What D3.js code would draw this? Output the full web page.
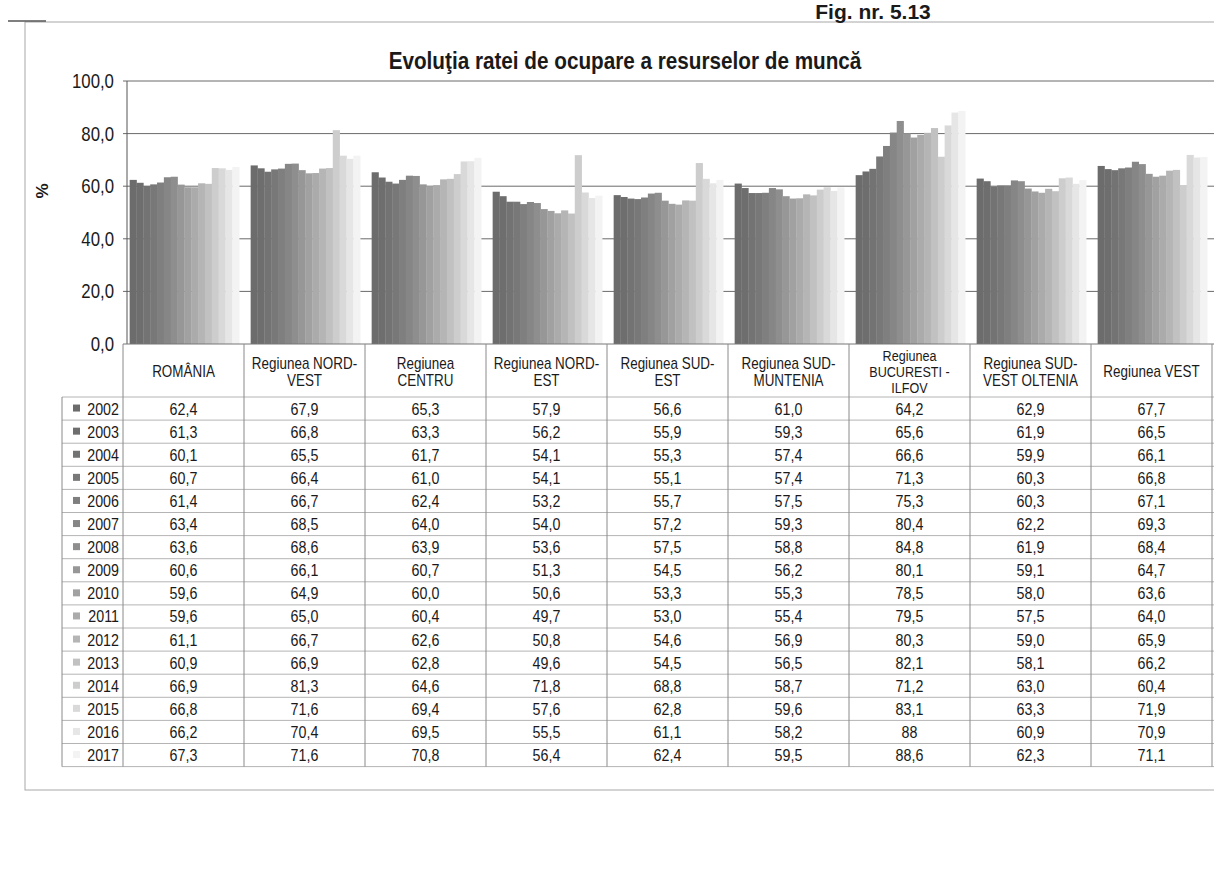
<!DOCTYPE html>
<html>
<head>
<meta charset="utf-8">
<script src="https://cdn.jsdelivr.net/npm/d3@7"></script>
<style>
  html, body { margin: 0; padding: 0; background: #ffffff; }
  svg { display: block; }
  text { font-family: "Liberation Sans Narrow", "Arial Narrow", "Liberation Sans", Arial, sans-serif; fill: #1a1a1a; }
</style>
</head>
<body>
<svg id="chart" width="1214" height="870"></svg>
<script>
// ---------------- DATA ----------------
const figLabel = "Fig. nr. 5.13";
const title = "Evoluţia ratei de ocupare a resurselor de muncă";
const yAxisLabel = "%";
const years = ["2002","2003","2004","2005","2006","2007","2008","2009","2010","2011","2012","2013","2014","2015","2016","2017"];
const regions = ["ROMÂNIA","Regiunea NORD-VEST","Regiunea CENTRU","Regiunea NORD-EST","Regiunea SUD-EST","Regiunea SUD-MUNTENIA","Regiunea BUCURESTI - ILFOV","Regiunea SUD-VEST OLTENIA","Regiunea VEST"];
const regionHeaderLines = [
  ["ROMÂNIA"],
  ["Regiunea NORD-","VEST"],
  ["Regiunea","CENTRU"],
  ["Regiunea NORD-","EST"],
  ["Regiunea SUD-","EST"],
  ["Regiunea SUD-","MUNTENIA"],
  ["Regiunea","BUCURESTI -","ILFOV"],
  ["Regiunea SUD-","VEST OLTENIA"],
  ["Regiunea VEST"]
];
const romania        = [62.4,61.3,60.1,60.7,61.4,63.4,63.6,60.6,59.6,59.6,61.1,60.9,66.9,66.8,66.2,67.3];
const nordVest       = [67.9,66.8,65.5,66.4,66.7,68.5,68.6,66.1,64.9,65.0,66.7,66.9,81.3,71.6,70.4,71.6];
const centru         = [65.3,63.3,61.7,61.0,62.4,64.0,63.9,60.7,60.0,60.4,62.6,62.8,64.6,69.4,69.5,70.8];
const nordEst        = [57.9,56.2,54.1,54.1,53.2,54.0,53.6,51.3,50.6,49.7,50.8,49.6,71.8,57.6,55.5,56.4];
const sudEst         = [56.6,55.9,55.3,55.1,55.7,57.2,57.5,54.5,53.3,53.0,54.6,54.5,68.8,62.8,61.1,62.4];
const sudMuntenia    = [61.0,59.3,57.4,57.4,57.5,59.3,58.8,56.2,55.3,55.4,56.9,56.5,58.7,59.6,58.2,59.5];
const bucurestiIlfov = [64.2,65.6,66.6,71.3,75.3,80.4,84.8,80.1,78.5,79.5,80.3,82.1,71.2,83.1,88.0,88.6];
const sudVestOltenia = [62.9,61.9,59.9,60.3,60.3,62.2,61.9,59.1,58.0,57.5,59.0,58.1,63.0,63.3,60.9,62.3];
const vest           = [67.7,66.5,66.1,66.8,67.1,69.3,68.4,64.7,63.6,64.0,65.9,66.2,60.4,71.9,70.9,71.1];
const regionValues = [romania,nordVest,centru,nordEst,sudEst,sudMuntenia,bucurestiIlfov,sudVestOltenia,vest];
// cells printed differently in the source table
const cellTextOverrides = { "Regiunea BUCURESTI - ILFOV|2016": "88" };
const yTicks = [0,20,40,60,80,100];

// ---------------- LAYOUT ----------------
const svg = d3.select("#chart");
const plotLeft = 123, plotRight = 1212, plotTop = 81, plotBottom = 344;
const tableTop = plotBottom, headerBottom = 397, rowH = 23.1;
const legendLeft = 62;
const SX = 0.84; // horizontal condensing (narrow font look)

const fmt = v => d3.format(".1f")(v).replace(".", ",");

const x0 = d3.scaleBand().domain(regions).range([plotLeft, plotRight]).padding(0);
const x1 = d3.scaleBand().domain(years).range([x0.bandwidth()*0.055, x0.bandwidth()*0.96]).padding(0);
const y = d3.scaleLinear().domain([0,100]).range([plotBottom, plotTop]);
const color = d3.scaleOrdinal().domain(years).range(years.map((d,i) => d3.interpolateRgb("#6c6c6c", "#f3f3f3")(Math.pow(i/(years.length-1), 1.5))));

function ctext(parent, x, yy, str, size, anchor, opts = {}) {
  const t = parent.append("text")
    .attr("transform", `translate(${x},${yy}) scale(${opts.sx || SX},1)`)
    .attr("text-anchor", anchor || "middle")
    .style("font-size", size + "px")
    .text(str);
  if (opts.bold) t.style("font-weight", "bold");
  if (opts.fill) t.attr("fill", opts.fill);
  return t;
}

// outer frame
svg.append("rect").attr("x", 25).attr("y", 22).attr("width", 1220).attr("height", 768)
  .attr("fill", "none").attr("stroke", "#a8a8a8").attr("stroke-width", 1);
svg.append("line").attr("x1", 8).attr("x2", 46).attr("y1", 21).attr("y2", 21).attr("stroke", "#555").attr("stroke-width", 1.5);

// fig label and title
ctext(svg, 873, 19, figLabel, 21, "middle", { bold: true, sx: 1 });
ctext(svg, 625, 69, title, 23, "middle", { bold: true, sx: 0.9 });

// gridlines
svg.append("g").selectAll("line").data(yTicks.filter(d => d > 0)).join("line")
  .attr("x1", plotLeft).attr("x2", plotRight + 2)
  .attr("y1", d => y(d)).attr("y2", d => y(d))
  .attr("stroke", "#6a6a6a").attr("stroke-width", 1);

// y axis labels
const yAxis = d3.axisLeft(y).tickValues(yTicks).tickSize(0).tickPadding(6).tickFormat(fmt);
const gy = svg.append("g").attr("transform", `translate(${plotLeft - 4},0)`).call(yAxis);
gy.select(".domain").remove();
gy.selectAll("text").style("font-size", "20px").attr("fill", "#1a1a1a")
  .style("font-family", '"Liberation Sans Narrow","Arial Narrow","Liberation Sans",Arial,sans-serif')
  .attr("transform", `scale(${SX},1)`);
svg.append("text").attr("transform", "translate(48,191) rotate(-90)").attr("text-anchor", "middle")
  .style("font-size", "17px").style("font-weight", "bold").text(yAxisLabel);

// bars
const groups = svg.append("g").selectAll("g").data(regions).join("g")
  .attr("transform", d => `translate(${x0(d)},0)`);
groups.selectAll("rect").data((r, i) => years.map((yr, j) => ({ year: yr, value: regionValues[i][j] }))).join("rect")
  .attr("x", d => x1(d.year)).attr("width", x1.bandwidth() + 0.3)
  .attr("y", d => y(d.value)).attr("height", d => y(0) - y(d.value))
  .attr("fill", d => color(d.year));

// axis line (left)
svg.append("line").attr("x1", plotLeft + 4).attr("x2", plotLeft + 4).attr("y1", plotTop).attr("y2", plotBottom)
  .attr("stroke", "#555").attr("stroke-width", 1);

// ---------------- TABLE ----------------
const tableBottom = headerBottom + rowH * years.length;
const tbl = svg.append("g");
tbl.append("line").attr("x1", plotLeft).attr("x2", plotRight + 2).attr("y1", tableTop).attr("y2", tableTop).attr("stroke", "#777");
tbl.selectAll("line.row").data(d3.range(years.length + 1)).join("line").attr("class", "row")
  .attr("x1", legendLeft).attr("x2", plotRight + 2)
  .attr("y1", i => headerBottom + i * rowH).attr("y2", i => headerBottom + i * rowH)
  .attr("stroke", "#b4b4b4").attr("stroke-width", 1);
tbl.selectAll("line.col").data(regions).join("line").attr("class", "col")
  .attr("x1", d => x0(d)).attr("x2", d => x0(d)).attr("y1", tableTop).attr("y2", tableBottom)
  .attr("stroke", "#8a8a8a");
tbl.append("line").attr("x1", plotRight).attr("x2", plotRight).attr("y1", tableTop).attr("y2", tableBottom).attr("stroke", "#8a8a8a");
tbl.append("line").attr("x1", legendLeft).attr("x2", legendLeft).attr("y1", headerBottom).attr("y2", tableBottom).attr("stroke", "#8a8a8a");

// headers
regions.forEach((r, i) => {
  const lines = regionHeaderLines[i];
  const cx = x0(r) + x0.bandwidth() / 2;
  const lh = lines.length === 3 ? 16 : 17;
  const cy = (tableTop + headerBottom) / 2 + 2;
  const t = tbl.append("text").attr("text-anchor", "middle")
    .attr("transform", `translate(${cx},0) scale(${SX},1)`)
    .style("font-size", lines.length === 3 ? "15px" : "16px")
    .attr("fill", lines.length === 3 ? "#7a7a7a" : "#1a1a1a");
  lines.forEach((ln, k) => {
    t.append("tspan").attr("x", 0).attr("y", cy + (k - (lines.length - 1) / 2) * lh + 5).text(ln);
  });
});

// legend column
years.forEach((yr, j) => {
  const cy = headerBottom + j * rowH + rowH / 2;
  tbl.append("rect").attr("x", 73).attr("y", cy - 4).attr("width", 7).attr("height", 7).attr("fill", color(yr));
  ctext(tbl, 119, cy + 6, yr, 17, "end");
});

// cell values
regions.forEach((r, i) => {
  years.forEach((yr, j) => {
    const key = r + "|" + yr;
    const txt = cellTextOverrides[key] || fmt(regionValues[i][j]);
    ctext(tbl, x0(r) + x0.bandwidth() / 2, headerBottom + j * rowH + rowH / 2 + 6, txt, 17, "middle");
  });
});
</script>
</body>
</html>
